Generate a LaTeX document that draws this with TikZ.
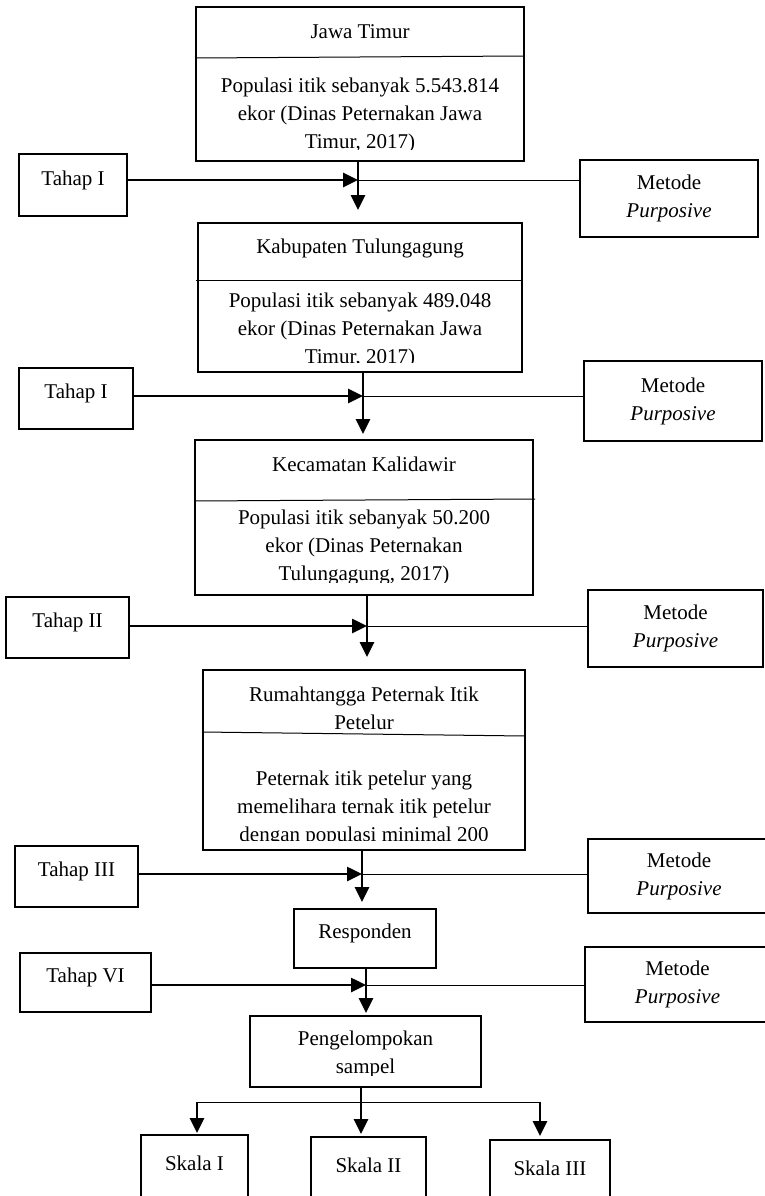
\documentclass[tikz,border=0pt]{standalone}
\usepackage{fontspec}
\setmainfont{Liberation Serif}
\usetikzlibrary{arrows.meta}
\tikzstyle{kotak}=[draw,rectangle,line width=1.8pt,inner sep=0pt]
\tikzstyle{kecil}=[kotak,text height=10pt,text depth=10pt]
\tikzstyle{metode}=[kotak,align=center]
\tikzstyle{isi}=[align=center,inner sep=0pt]
\tikzstyle{panah}=[line width=2.6pt,-{Triangle[length=15pt,width=14pt]}]
\tikzstyle{garis}=[line width=1pt]

\begin{document}
\begin{tikzpicture}[x=1pt,y=1pt,font=\fontsize{21}{28}\selectfont]
    \useasboundingbox (0,0) rectangle (765,-1196);

    % kotak wilayah
    \node[kotak,minimum width=328pt,minimum height=154pt] (jatim) at (360,-84) {};
    \node[isi] (jatimjudul) at (360,-32) {Jawa Timur};
    \draw[garis] (196,-58) -- (524,-56);
    \begin{scope}
        \clip (196,-57) rectangle (524,-149);
        \node[isi] (jatimisi) at (360,-115) {Populasi itik sebanyak 5.543.814\\ekor (Dinas Peternakan Jawa\\Timur, 2017)};
    \end{scope}

    \node[kotak,minimum width=324pt,minimum height=149pt] (tulungagung) at (360,-297.5) {};
    \node[isi] (tulungagungjudul) at (360,-248) {Kabupaten Tulungagung};
    \draw[garis] (196,-280) -- (522,-280);
    \begin{scope}
        \clip (198,-280) rectangle (522,-362);
        \node[isi] (tulungagungisi) at (360,-330) {Populasi itik sebanyak 489.048\\ekor (Dinas Peternakan Jawa\\Timur, 2017)};
    \end{scope}

    \node[kotak,minimum width=338pt,minimum height=155pt] (kalidawir) at (364,-517.5) {};
    \node[isi] (kalidawirjudul) at (364,-464) {Kecamatan Kalidawir};
    \draw[garis] (194,-501) -- (535,-499);
    \begin{scope}
        \clip (195,-500) rectangle (533,-582);
        \node[isi] (kalidawirisi) at (364,-547) {Populasi itik sebanyak 50.200\\ekor (Dinas Peternakan\\Tulungagung, 2017)};
    \end{scope}

    \node[kotak,minimum width=322pt,minimum height=180pt] (rumahtangga) at (364,-760) {};
    \node[isi] (rumahtanggajudul) at (364,-708) {Rumahtangga Peternak Itik\\Petelur};
    \draw[garis] (202,-732) -- (525,-736);
    \begin{scope}
        \clip (203,-734) rectangle (525,-840);
        \node[isi] (rumahtanggaisi) at (364,-808) {Peternak itik petelur yang\\memelihara ternak itik petelur\\dengan populasi minimal 200};
    \end{scope}

    \node[kecil,minimum width=142pt,minimum height=59pt] (responden) at (365,-938.5) {Responden};
    \node[kotak,minimum width=231pt,minimum height=71pt] (kelompok) at (365.5,-1051.5) {};
    \begin{scope}
        \clip (250,-1016) rectangle (481,-1075);
        \node[isi] (kelompokisi) at (365.5,-1054) {Pengelompokan\\sampel};
    \end{scope}

    \node[kecil,minimum width=107pt,minimum height=70pt] (skala1) at (194.5,-1170) {Skala I};
    \node[kecil,minimum width=115pt,minimum height=70pt] (skala2) at (368.5,-1172) {Skala II};
    \node[kecil,minimum width=120pt,minimum height=70pt] (skala3) at (550,-1175) {Skala III};

    % tahap
    \node[kecil,minimum width=108pt,minimum height=62pt] (tahap1) at (73,-185) {Tahap I};
    \node[kecil,minimum width=114pt,minimum height=61pt] (tahap2) at (76,-398.5) {Tahap I};
    \node[kecil,minimum width=123pt,minimum height=61pt] (tahap3) at (67.5,-627.5) {Tahap II};
    \node[kecil,minimum width=123pt,minimum height=61pt] (tahap4) at (76.5,-876.5) {Tahap III};
    \node[kecil,minimum width=131pt,minimum height=59pt] (tahap5) at (85.5,-982.5) {Tahap VI};

    % metode
    \node[metode,minimum width=178pt,minimum height=77pt] (metode1) at (669,-198.5) {Metode\\\textit{Purposive}};
    \node[metode,minimum width=178pt,minimum height=80pt] (metode2) at (673,-401) {Metode\\\textit{Purposive}};
    \node[metode,minimum width=175pt,minimum height=77pt] (metode3) at (675.5,-628.5) {Metode\\\textit{Purposive}};
    \node[metode,minimum width=182pt,minimum height=74pt] (metode4) at (679,-876) {Metode\\\textit{Purposive}};
    \node[metode,minimum width=185pt,minimum height=75pt] (metode5) at (677.5,-984.5) {Metode\\\textit{Purposive}};

    \coordinate (j1) at (358,-180);
    \coordinate (j2) at (363,-396);
    \coordinate (j3) at (367,-626);
    \coordinate (j4) at (362,-874);
    \coordinate (j5) at (366,-985);
    \coordinate (cabang) at (361,-1102);
    \coordinate (kiri) at (197,-1102);
    \coordinate (kanan) at (540,-1102);

    % alur
    \draw[panah,shorten >=12pt] (jatim.south -| j1) -- (tulungagung.north -| j1);
    \draw[panah,shorten >=5pt] (tulungagung.south -| j2) -- (kalidawir.north -| j2);
    \draw[panah,shorten >=12pt] (kalidawir.south -| j3) -- (rumahtangga.north -| j3);
    \draw[panah,shorten >=6pt] (rumahtangga.south -| j4) -- (responden.north -| j4);
    \draw[panah,shorten >=2pt] (responden.south -| j5) -- (kelompok.north -| j5);
    \draw[panah,shorten >=2pt] (kelompok.south -| cabang) -- (skala2.north -| cabang);
    \draw[garis] (kiri) -- (kanan);
    \draw[panah,shorten >=1pt] (kiri) -- (kiri |- skala1.north);
    \draw[panah,shorten >=3pt] (kanan) -- (kanan |- skala3.north);

    \foreach \t/\j/\m in {tahap1/j1/metode1,tahap2/j2/metode2,tahap3/j3/metode3,tahap4/j4/metode4,tahap5/j5/metode5}
    {
        \draw[panah] (\t.east |- \j) -- (\j);
        \draw[garis] (\j) -- (\j -| \m.west);
    }
\end{tikzpicture}
\end{document}
